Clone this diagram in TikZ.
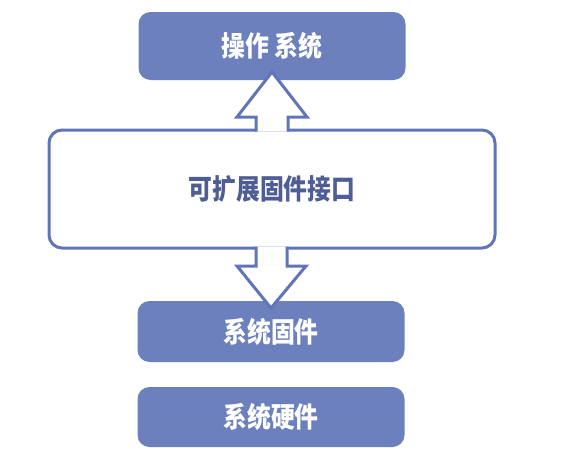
\documentclass[tikz,border=0pt]{standalone}
\usepackage{graphicx}
\usepackage{fontspec}
\newfontfamily\cjk{Noto Sans CJK SC}
\usepackage{tikz}
\usetikzlibrary{calc}
\definecolor{boxblue}{RGB}{108,128,190}
\definecolor{lineblue}{RGB}{96,116,184}
\definecolor{textblue}{RGB}{78,94,148}
\newcommand{\lbl}[1]{{\cjk\bfseries\fontsize{28}{32}\selectfont\scalebox{0.85}[1]{#1}}}
\tikzset{
	layer/.style={fill=boxblue,rounded corners=12pt,minimum width=267pt,text=white,inner sep=0pt,outer sep=0pt},
	bigbox/.style={draw=lineblue,line width=3pt,fill=white,rounded corners=13pt,minimum width=446pt,minimum height=118pt,text=textblue,inner sep=0pt,outer sep=0pt},
	blockarrow/.style={draw=lineblue,line width=3pt,fill=white,line join=miter}
}
\begin{document}
\begin{tikzpicture}[x=1pt,y=-1pt]
	\useasboundingbox (0,0) rectangle (573,458);
	\node[layer,minimum height=68pt] (os) at (272,46){\lbl{操作 系统}};
	\node[bigbox] (ifc) at (272,189){\lbl{可扩展固件接口}};
	\node[layer,minimum height=61pt] (fw) at (271,331.5){\lbl{系统固件}};
	\node[layer,minimum height=60pt] (hw) at (271,417){\lbl{系统硬件}};
	
	\filldraw[blockarrow] ($(ifc.north)+(-16,1.5)$)--++(0,-14.5)--++(-19,0)--($(os.south)+(0,-8)$)--++(35,45)--++(-19,0)--++(0,14.5);
	\filldraw[blockarrow] ($(ifc.south)+(-16,-1.5)$)--++(0,19.5)--++(-19,0)--($(fw.north)+(0,7)$)--++(35,-42)--++(-19,0)--++(0,-19.5);
\end{tikzpicture}
\end{document}
